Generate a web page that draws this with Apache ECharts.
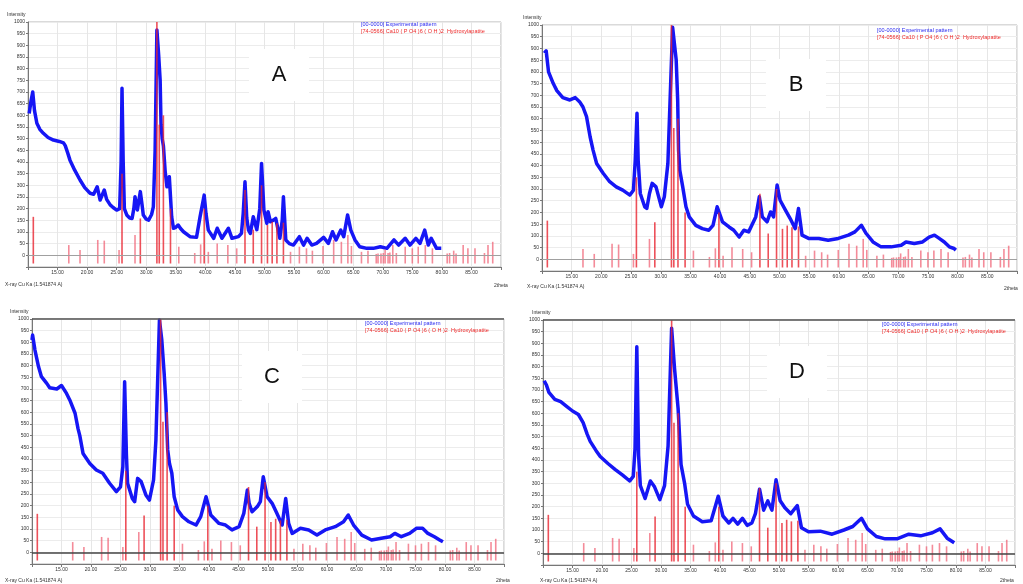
<!DOCTYPE html>
<html>
<head>
<meta charset="utf-8">
<script src="https://cdn.jsdelivr.net/npm/echarts@6/dist/echarts.min.js"></script>
<style>
  html, body { margin: 0; padding: 0; background: #fff; }
  #chart { width: 1023px; height: 584px; }
</style>
</head>
<body>
<div id="chart"></div>
<script>
// Measured diffraction scans, [2theta (deg), intensity (counts)]
const scanA = [[10.2,608],[10.5,660],[10.8,700],[11.1,620],[11.5,566],[12.0,540],[12.6,523],[13.4,505],[14.3,494],[15.3,488],[16.0,482],[16.3,470],[16.7,440],[17.1,408],[17.9,365],[18.8,323],[19.6,290],[20.5,266],[21.1,262],[21.7,294],[22.2,237],[22.9,280],[23.3,240],[23.9,216],[24.4,205],[25.0,194],[25.5,200],[25.75,400],[25.9,716],[26.1,400],[26.3,200],[26.7,173],[27.2,160],[27.6,158],[27.9,200],[28.1,251],[28.5,194],[29.0,273],[29.3,215],[29.5,173],[30.0,155],[30.4,151],[30.9,175],[31.2,208],[31.5,450],[31.8,966],[32.1,858],[32.35,751],[32.5,560],[32.7,500],[32.9,470],[33.2,360],[33.5,294],[33.9,337],[34.3,165],[34.6,116],[35.0,120],[35.4,130],[35.8,115],[36.3,101],[37.4,80],[38.5,77],[39.1,165],[39.8,258],[40.1,180],[40.5,108],[41.4,73],[42.0,116],[42.8,73],[43.9,116],[44.5,73],[45.6,80],[46.1,94],[46.4,180],[46.7,315],[47.0,160],[47.3,108],[47.6,94],[48.1,165],[48.7,110],[49.2,200],[49.5,394],[49.9,194],[50.4,137],[50.6,187],[51.0,144],[51.5,151],[51.9,158],[52.6,73],[53.0,150],[53.2,251],[53.6,66],[54.2,50],[54.9,44],[55.9,80],[56.6,44],[57.2,73],[58.0,44],[58.8,51],[60.0,77],[60.8,51],[61.5,101],[62.1,66],[62.9,108],[63.4,80],[64.05,173],[64.6,108],[65.3,66],[66.1,37],[67.3,30],[68.4,30],[69.6,37],[70.7,30],[71.9,66],[72.7,44],[73.8,73],[74.6,44],[75.6,73],[76.3,51],[77.1,108],[77.7,44],[78.2,73],[79.1,30],[79.9,30]];

const scanB = [[10.4,880],[10.7,890],[11.1,800],[11.9,750],[12.5,720],[13.5,690],[14.7,680],[15.6,690],[16.4,670],[16.9,650],[17.5,609],[18.1,523],[18.6,466],[19.2,409],[20.3,367],[21.4,331],[22.5,309],[23.6,295],[24.8,274],[25.4,295],[25.7,420],[26.0,623],[26.2,420],[26.55,281],[27.3,224],[27.65,217],[28.1,281],[28.55,324],[29.2,309],[30.1,224],[30.6,267],[31.2,409],[31.6,700],[32.0,990],[32.6,851],[32.85,680],[33.0,466],[33.2,381],[33.7,309],[34.25,224],[34.8,181],[35.9,145],[37.0,131],[38.1,124],[38.8,145],[39.5,224],[40.4,160],[41.5,138],[42.3,124],[43.2,95],[44.0,124],[44.8,117],[46.0,181],[46.6,267],[47.1,181],[47.9,160],[48.5,202],[49.0,181],[49.6,317],[50.1,252],[51.0,210],[51.8,174],[52.65,131],[53.2,217],[53.8,103],[54.9,89],[56.6,89],[58.2,81],[59.9,89],[61.6,103],[62.7,117],[63.8,145],[64.6,110],[65.75,74],[67.1,53],[68.8,53],[70.5,60],[71.3,74],[72.7,67],[74.1,74],[75.2,95],[76.1,103],[76.9,89],[77.75,74],[78.6,53],[79.4,46],[79.7,39]];

const scanC = [[10.0,910],[10.1,931],[10.5,867],[11.1,796],[11.6,753],[12.5,724],[13.0,705],[14.2,700],[15.0,715],[15.85,681],[16.4,653],[17.3,596],[17.8,530],[18.1,500],[18.65,424],[19.8,381],[20.9,353],[22.0,339],[23.15,296],[24.3,260],[25.0,281],[25.4,367],[25.7,731],[26.0,420],[26.2,296],[27.0,231],[27.4,217],[27.9,317],[28.5,303],[29.3,246],[29.9,224],[30.6,310],[31.0,481],[31.6,996],[32.0,910],[32.4,767],[32.7,639],[33.0,439],[33.3,381],[33.7,339],[34.1,238],[34.7,181],[35.5,153],[36.6,131],[37.8,117],[38.6,153],[39.5,238],[40.3,160],[41.7,124],[42.8,117],[43.9,96],[45.1,110],[45.9,167],[46.5,267],[46.8,210],[47.3,174],[48.2,196],[48.7,217],[49.2,324],[49.85,238],[50.7,210],[51.5,167],[52.4,117],[53.0,231],[53.5,124],[54.1,81],[55.5,103],[56.9,96],[58.3,74],[59.7,96],[61.4,110],[62.8,131],[63.6,160],[64.5,117],[65.9,74],[67.55,53],[69.2,60],[70.7,67],[71.5,81],[72.6,67],[74.0,81],[75.15,103],[76.2,103],[77.1,81],[78.2,67],[79.1,53],[79.65,45]];

const scanD = [[10.2,740],[10.6,720],[11.0,690],[12.0,660],[13.0,650],[14.0,630],[15.0,610],[16.0,595],[16.8,560],[17.5,510],[18.0,480],[19.0,440],[19.7,415],[21.0,385],[22.2,360],[23.5,335],[24.7,310],[25.3,330],[25.6,450],[25.9,885],[26.2,420],[26.5,290],[27.3,235],[28.2,310],[28.9,285],[29.8,230],[30.6,290],[31.2,460],[31.8,965],[32.3,790],[32.9,620],[33.4,380],[34.0,300],[34.5,210],[35.5,160],[37.0,135],[38.5,140],[39.7,245],[40.5,160],[41.5,130],[42.2,150],[43.0,125],[43.8,150],[44.6,120],[45.4,130],[46.0,170],[46.7,275],[47.4,185],[48.1,225],[48.8,185],[49.5,315],[50.2,225],[51.0,195],[52.0,170],[53.1,205],[53.8,110],[55.0,92],[57.0,95],[59.0,82],[61.0,100],[62.5,115],[64.0,150],[65.0,105],[66.5,72],[68.0,62],[70.0,62],[72.0,82],[74.0,75],[76.0,88],[77.3,105],[78.5,65],[79.7,45]];

// Reference card 74-0566, hydroxylapatite: [2theta (deg), relative intensity]
const refPeaks = [[10.9,165],[16.9,44],[18.8,23],[21.8,66],[22.9,63],[25.4,23],[25.9,350],[28.1,87],[29.0,158],[31.8,1000],[32.2,560],[32.9,600],[34.1,200],[35.5,37],[38.2,10],[39.2,47],[39.8,200],[40.5,15],[42.0,51],[43.8,44],[45.3,30],[46.7,280],[48.1,110],[49.5,300],[50.5,130],[51.3,144],[52.1,137],[53.2,140],[54.4,15],[55.9,37],[57.1,30],[58.1,20],[59.9,40],[61.7,66],[63.0,58],[64.1,87],[64.7,40],[66.4,15],[67.5,20],[68.9,6],[69.2,8],[69.7,8],[70.1,10],[70.4,25],[70.9,10],[71.2,12],[71.7,44],[72.3,10],[73.8,37],[75.0,30],[76.0,37],[77.2,44],[78.4,30],[80.9,8],[81.3,10],[82.0,20],[82.4,8],[83.6,44],[84.4,30],[85.6,30],[87.2,10],[87.8,44],[88.6,58]];

// Axis ranges and tick steps
const twoThetaRange = [10, 90];
const twoThetaStep = 5;
const intensityRange = [-50, 1000];
const intensityStep = 50;

const panelLetters = ['A', 'B', 'C', 'D'];
const scans = [scanA, scanB, scanC, scanD];
const legendExp = '[00-0000] Experimental pattern';
const legendRef = '[74-0566] Ca10 ( P O4 )6 ( O H )2  Hydroxylapatite';
const yAxisTitle = 'Intensity';
const xAxisTitle = 'X-ray Cu Ka (1.541874 A)';
const xAxisUnit = '2theta';

// Panel placement
const layout = [
  { grid: { left: 28,  top: 22,  width: 473, height: 245 }, letter: [279, 75],  legend: [361, 21],  yTitle: [7, 12],   xTitle: [5, 282],   unit: [494, 283],  dark: false },
  { grid: { left: 542, top: 25,  width: 475, height: 246 }, letter: [796, 85],  legend: [877, 27],  yTitle: [523, 15], xTitle: [527, 284], unit: [1004, 286], dark: false },
  { grid: { left: 32,  top: 319, width: 472, height: 245 }, letter: [272, 377], legend: [365, 320], yTitle: [10, 309], xTitle: [5, 578],   unit: [496, 578],  dark: true },
  { grid: { left: 543, top: 320, width: 472, height: 245 }, letter: [797, 372], legend: [882, 321], yTitle: [532, 310], xTitle: [540, 578], unit: [1000, 578], dark: true }
];

const FONT = '"Liberation Sans", Arial, sans-serif';
const STICK_BASE = -35;

const chart = echarts.init(document.getElementById('chart'), null, { renderer: 'canvas' });

const grids = [], xAxes = [], yAxes = [], series = [], graphics = [];

layout.forEach((p, i) => {
  grids.push(Object.assign({ show: true, borderColor: '#b4b4b4', borderWidth: 1, backgroundColor: '#fff' }, p.grid));

  xAxes.push({
    type: 'value', gridIndex: i,
    min: twoThetaRange[0], max: twoThetaRange[1], interval: twoThetaStep,
    axisLine: { onZero: false, lineStyle: { color: '#777', width: 1 } },
    axisTick: { length: 3, lineStyle: { color: '#777' } },
    axisLabel: {
      fontSize: 5, color: '#333', fontFamily: FONT, margin: 3,
      formatter: v => (v === twoThetaRange[0] || v === twoThetaRange[1]) ? '' : v.toFixed(2)
    },
    splitLine: { show: true, lineStyle: { color: '#e6e6e6', width: 1 } }
  });

  yAxes.push({
    type: 'value', gridIndex: i,
    min: intensityRange[0], max: intensityRange[1], interval: intensityStep,
    axisLine: { show: true, lineStyle: { color: '#777', width: 1 } },
    axisTick: { length: 2, lineStyle: { color: '#777' } },
    axisLabel: {
      fontSize: 5, color: '#333', fontFamily: FONT, margin: 3,
      formatter: v => v < 0 ? '' : String(v)
    },
    splitLine: { show: true, lineStyle: { color: '#ececec', width: 1 } }
  });

  // experimental pattern
  series.push({
    type: 'line', xAxisIndex: i, yAxisIndex: i, z: 3,
    data: scans[i], showSymbol: false, smooth: false, clip: true,
    lineStyle: { color: '#1616f5', width: 3.5, join: 'round' },
    silent: true, animation: false
  });

  // reference sticks, with zero baseline
  const lines = [{ yAxis: 0, lineStyle: { type: 'solid', color: p.dark ? '#444' : '#a0a0a0', width: p.dark ? 1.6 : 1 } }];
  if (p.dark) lines.push({ yAxis: intensityRange[1], lineStyle: { type: 'solid', color: '#555', width: 1.6 } });
  series.push({
    type: 'custom', xAxisIndex: i, yAxisIndex: i, z: 4,
    data: refPeaks, silent: true, animation: false, clip: true,
    renderItem: (params, api) => {
      const x = api.value(0), h = api.value(1);
      const a = api.coord([x, STICK_BASE]);
      const b = api.coord([x, h]);
      return {
        type: 'line',
        shape: { x1: a[0], y1: a[1], x2: b[0], y2: b[1] },
        style: { stroke: h >= 100 ? 'rgba(232,36,48,0.8)' : 'rgba(240,90,110,0.7)', lineWidth: 1.6 }
      };
    },
    markLine: {
      silent: true, symbol: 'none', label: { show: false }, animation: false,
      lineStyle: { type: 'solid' }, data: lines
    }
  });

  // panel letter on its white patch
  graphics.push({
    type: 'rect', z: 50, silent: true,
    shape: { x: p.letter[0] - 30, y: p.letter[1] - 26, width: 60, height: 52 },
    style: { fill: '#fff' }
  });
  graphics.push({
    type: 'text', z: 51, silent: true, x: p.letter[0], y: p.letter[1],
    style: { text: panelLetters[i], font: '22px ' + FONT, fill: '#111', align: 'center', verticalAlign: 'middle' }
  });

  // legend lines
  graphics.push({
    type: 'text', z: 51, silent: true, x: p.legend[0], y: p.legend[1],
    style: { text: legendExp, font: '5.5px ' + FONT, fill: '#2a2af0', align: 'left', verticalAlign: 'top' }
  });
  graphics.push({
    type: 'text', z: 51, silent: true, x: p.legend[0], y: p.legend[1] + 7,
    style: { text: legendRef, font: '5.5px ' + FONT, fill: '#ee2a2a', align: 'left', verticalAlign: 'top' }
  });

  // axis titles
  graphics.push({
    type: 'text', z: 51, silent: true, x: p.yTitle[0], y: p.yTitle[1],
    style: { text: yAxisTitle, font: '5px ' + FONT, fill: '#333', align: 'left', verticalAlign: 'top' }
  });
  graphics.push({
    type: 'text', z: 51, silent: true, x: p.xTitle[0], y: p.xTitle[1],
    style: { text: xAxisTitle, font: '5px ' + FONT, fill: '#333', align: 'left', verticalAlign: 'top' }
  });
  graphics.push({
    type: 'text', z: 51, silent: true, x: p.unit[0], y: p.unit[1],
    style: { text: xAxisUnit, font: '5px ' + FONT, fill: '#333', align: 'left', verticalAlign: 'top' }
  });
});

chart.setOption({
  animation: false,
  backgroundColor: '#fff',
  grid: grids,
  xAxis: xAxes,
  yAxis: yAxes,
  series: series,
  graphic: graphics
});
</script>
</body>
</html>
